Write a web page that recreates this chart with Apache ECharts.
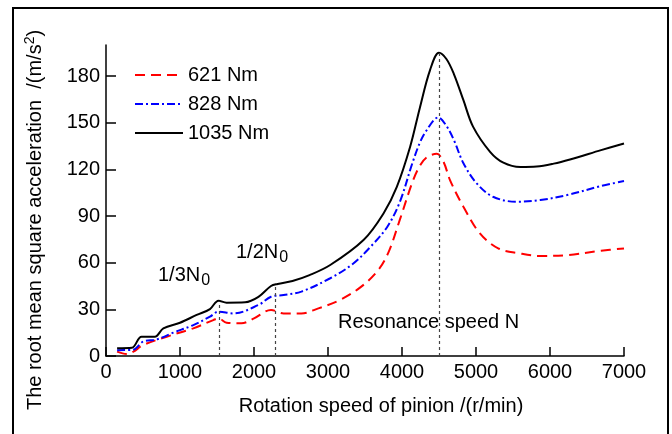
<!DOCTYPE html>
<html>
<head>
<meta charset="utf-8">
<script src="https://cdn.jsdelivr.net/npm/echarts@6/dist/echarts.min.js"></script>
<style>
  html, body { margin: 0; padding: 0; background: #fff; }
  #chart { width: 672px; height: 434px; }
</style>
</head>
<body>
<div id="chart"></div>
<script>
// rotation speed (r/min) and rms acceleration (m/s^2)
const speed621 = [150, 280, 370, 500, 820, 1180, 1450, 1520, 1630, 1830, 2000, 2230, 2400, 2640, 2870, 3160, 3450, 3680, 3820, 3970, 4150, 4250, 4340, 4470, 4560, 4650, 4830, 5050, 5300, 5590, 5880, 6230, 6690, 7000];
const acc621 = [2.8, 1.3, 2.8, 7, 12.4, 17.8, 23.1, 24.2, 21.4, 21, 24.2, 29.6, 27.4, 27.4, 30.6, 36, 44.6, 55.3, 67, 87.5, 113, 123, 128, 130, 125, 113, 96, 79, 69.2, 66, 64.3, 64.9, 67.7, 69.2];

const speed828 = [150, 370, 500, 690, 910, 1180, 1405, 1520, 1720, 2060, 2230, 2400, 2640, 3030, 3330, 3570, 3800, 3970, 4140, 4240, 4330, 4490, 4600, 4700, 4830, 5010, 5230, 5550, 5870, 6230, 6690, 7000];
const acc828 = [3.7, 4.1, 9.2, 10.7, 15, 19.9, 25.3, 28.5, 27.4, 32.8, 38.1, 39.2, 41.4, 50, 59, 70, 83, 99, 124, 137, 145, 153.4, 148, 139, 124, 111, 102.4, 99.2, 100.3, 103.5, 109.3, 112.5];

const speed1035 = [150, 350, 480, 660, 775, 1000, 1225, 1405, 1520, 1630, 1880, 2060, 2230, 2320, 2520, 2750, 3030, 3480, 3750, 3930, 4110, 4240, 4380, 4500, 4600, 4700, 4830, 4960, 5190, 5370, 5600, 5820, 6050, 6270, 6690, 7000];
const acc1035 = [5, 5.3, 12.4, 12.4, 17.8, 21.4, 26.4, 30.2, 35.6, 34.3, 34.5, 38, 45, 46.3, 48.2, 52, 58.5, 74.6, 91.7, 108.8, 134.6, 159.4, 184, 195, 191, 181.5, 164.5, 147.5, 131.3, 124.3, 121.5, 121.8, 123.7, 126.4, 132.4, 136.7];

const seriesNames = ['621 Nm', '828 Nm', '1035 Nm'];

// dashed guide lines: 1/3 N0, 1/2 N0, resonance speed N
const guideSpeeds = [1530, 2290, 4500];
const guideTops = [35, 46, 195];

const yTicks = [0, 30, 60, 90, 120, 150, 180];

const font = 'Liberation Sans, Arial, sans-serif';
const pair = (xs, ys) => xs.map((x, i) => [x, ys[i]]);

const chart = echarts.init(document.getElementById('chart'));

const option = {
  animation: false,
  grid: { left: 106, right: 48, top: 45, bottom: 78 },
  legend: {
    data: seriesNames,
    orient: 'vertical',
    left: 129,
    top: 60,
    itemWidth: 48,
    itemHeight: 14,
    itemGap: 9,
    itemStyle: { opacity: 0, borderWidth: 0 },
    textStyle: { fontFamily: font, fontSize: 20, color: '#000' }
  },
  xAxis: {
    type: 'value',
    min: 0,
    max: 7000,
    interval: 1000,
    axisLine: { lineStyle: { color: '#000', width: 1.5 } },
    axisTick: { inside: true, length: 9, lineStyle: { color: '#000', width: 1.5 } },
    axisLabel: { color: '#000', fontFamily: font, fontSize: 20, margin: 6, formatter: (v) => String(v) },
    splitLine: { show: false }
  },
  yAxis: {
    type: 'value',
    min: 0,
    max: 200,
    axisLine: { show: true, lineStyle: { color: '#000', width: 1.5 } },
    axisTick: { show: true, inside: true, length: 10, customValues: yTicks, lineStyle: { color: '#000', width: 1.5 } },
    axisLabel: { color: '#000', fontFamily: font, fontSize: 20, margin: 6, customValues: yTicks },
    splitLine: { show: false }
  },
  series: [
    {
      name: seriesNames[0],
      type: 'line',
      data: pair(speed621, acc621),
      symbol: 'none',
      smooth: 0.35,
      lineStyle: { color: '#ff0000', width: 2, type: [10, 6] },
      itemStyle: { color: '#ff0000' }
    },
    {
      name: seriesNames[1],
      type: 'line',
      data: pair(speed828, acc828),
      symbol: 'none',
      smooth: 0.35,
      lineStyle: { color: '#0000ff', width: 2, type: [8, 3, 2, 3] },
      itemStyle: { color: '#0000ff' }
    },
    {
      name: seriesNames[2],
      type: 'line',
      data: pair(speed1035, acc1035),
      symbol: 'none',
      smooth: 0.35,
      lineStyle: { color: '#000', width: 2 },
      itemStyle: { color: '#000' },
      markLine: {
        silent: true,
        symbol: 'none',
        label: { show: false },
        lineStyle: { color: '#444', width: 1.2, type: [3, 3] },
        data: guideSpeeds.map((s, i) => [{ coord: [s, 0] }, { coord: [s, guideTops[i]] }])
      }
    }
  ],
  graphic: [
    {
      type: 'rect',
      shape: { x: 13, y: 8, width: 655, height: 440 },
      style: { fill: 'none', stroke: '#000', lineWidth: 2 },
      silent: true
    },
    {
      type: 'text',
      x: 35,
      y: 220,
      rotation: Math.PI / 2,
      style: {
        text: '{m|The root mean square acceleration  /(m/s}{s|2}{m|)}',
        align: 'center',
        verticalAlign: 'middle',
        rich: {
          m: { fontFamily: font, fontSize: 20, fill: '#000' },
          s: { fontFamily: font, fontSize: 14, fill: '#000', verticalAlign: 'top', padding: [0, 0, 10, 0] }
        }
      }
    },
    {
      type: 'text',
      x: 381,
      y: 406,
      style: {
        text: 'Rotation speed of pinion /(r/min)',
        align: 'center',
        verticalAlign: 'middle',
        font: '20px ' + font,
        fill: '#000'
      }
    },
    {
      type: 'text',
      x: 158,
      y: 275,
      style: {
        text: '{m|1/3N}{s|0}',
        verticalAlign: 'middle',
        rich: {
          m: { fontFamily: font, fontSize: 20, fill: '#000' },
          s: { fontFamily: font, fontSize: 16, fill: '#000', padding: [12, 0, 0, 1] }
        }
      }
    },
    {
      type: 'text',
      x: 236,
      y: 252,
      style: {
        text: '{m|1/2N}{s|0}',
        verticalAlign: 'middle',
        rich: {
          m: { fontFamily: font, fontSize: 20, fill: '#000' },
          s: { fontFamily: font, fontSize: 16, fill: '#000', padding: [12, 0, 0, 1] }
        }
      }
    },
    {
      type: 'text',
      x: 338,
      y: 322,
      style: {
        text: 'Resonance speed N',
        verticalAlign: 'middle',
        font: '20px ' + font,
        fill: '#000'
      }
    }
  ]
};

chart.setOption(option);
</script>
</body>
</html>
